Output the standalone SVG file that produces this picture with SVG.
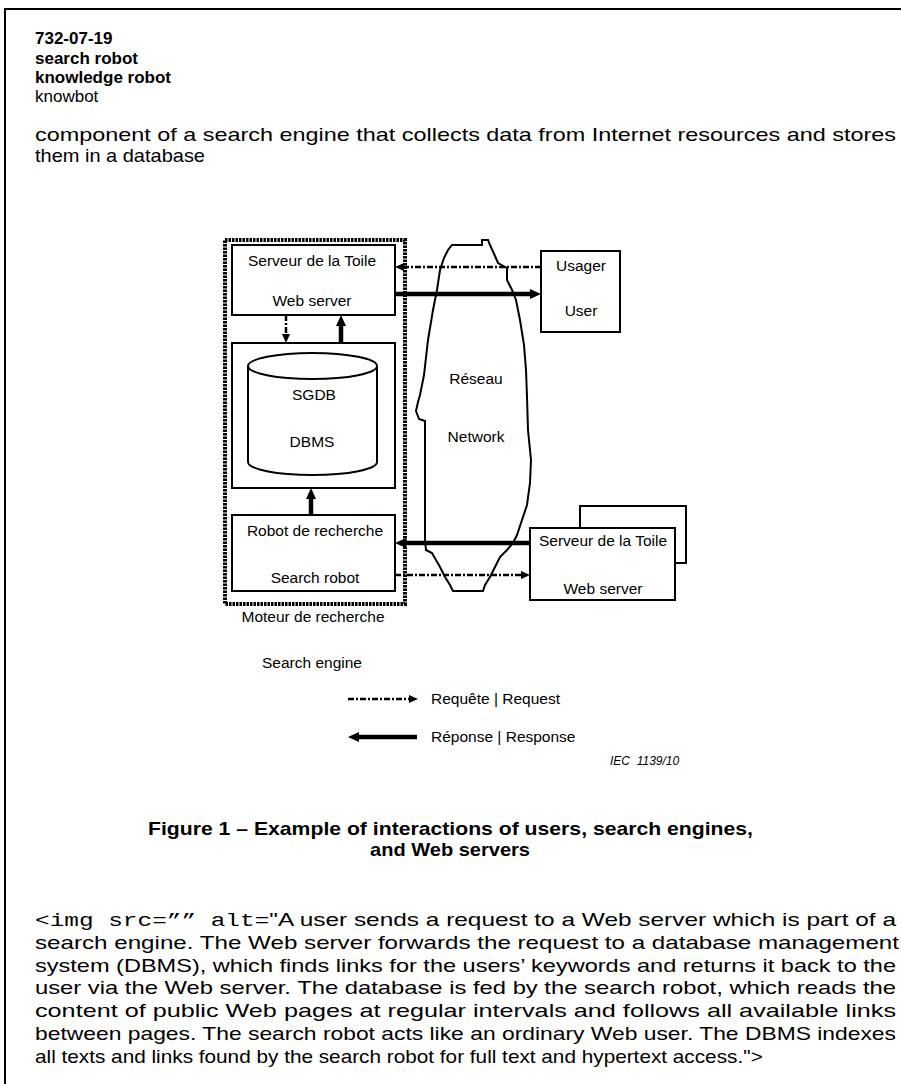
<svg xmlns="http://www.w3.org/2000/svg" width="901" height="1084" viewBox="0 0 901 1084">
<style>
.t{font-family:"Liberation Sans",Arial,sans-serif;fill:#000}
.b{font-weight:bold}
.hd{font-size:17px}
.body{font-size:19px}
.d{font-size:15.5px}
.m{font-family:"Liberation Mono","Courier New",monospace}
.box{fill:#fff;stroke:#000;stroke-width:2}
.thick{stroke:#000;stroke-width:4.5;fill:none}
.dd{stroke:#000;stroke-width:2.5;fill:none;stroke-dasharray:6 2 2 2}
</style>
<defs>
<marker id="ah" markerUnits="userSpaceOnUse" markerWidth="12" markerHeight="12" refX="0" refY="5.5" orient="auto"><path d="M0,0.5 L11,5.5 L0,10.5 Z" fill="#000"/></marker>
<marker id="ahs" markerUnits="userSpaceOnUse" markerWidth="10" markerHeight="10" refX="0" refY="4.5" orient="auto"><path d="M0,0.5 L9,4.5 L0,8.5 Z" fill="#000"/></marker>
</defs>
<rect width="901" height="1084" fill="#fff"/>
<g id="frame"><path d="M5,1084 V9 H901" fill="none" stroke="#000" stroke-width="2"/></g>
<g id="header" class="t hd">
<text x="35" y="44" class="b">732-07-19</text>
<text x="35" y="64" class="b">search robot</text>
<text x="35" y="83" class="b">knowledge robot</text>
<text x="35" y="102">knowbot</text>
</g>
<g id="definition" class="t body">
<text x="35" y="141" textLength="861" lengthAdjust="spacingAndGlyphs">component of a search engine that collects data from Internet resources and stores</text>
<text x="35" y="162" textLength="170" lengthAdjust="spacingAndGlyphs">them in a database</text>
</g>
<g id="network"><path d="M452,245 L482,245 L482,240 L488,240 L490,245 L495,256 L498,263 L507,268 L507,280 L512,290 L516,300 L520,320 L524,345 L526,370 L527,397 L528,430 L531,460 L530,483 L527,505 L522,520 L517,535 L513,543 L507,550 L500,557 L495,567 L490,577 L485,585 L483,591 L453,591 L450,585 L445,577 L440,567 L436,560 L432,553 L426,550 L425,540 L425,421 L419,419 L416,411 L418,402 L420,395 L424,375 L428,340 L433,310 L437,290 L440,270 L444,258 L448,250 Z" fill="none" stroke="#000" stroke-width="2"/>
<text x="476" y="384" class="t d" text-anchor="middle">Réseau</text>
<text x="476" y="442" class="t d" text-anchor="middle">Network</text>
</g>
<g id="search-engine"><rect x="225" y="240" width="180" height="364" fill="none" stroke="#000" stroke-width="4" stroke-dasharray="2.5 1"/>
<text x="313" y="622" class="t d" text-anchor="middle">Moteur de recherche</text>
<text x="312" y="668" class="t d" text-anchor="middle">Search engine</text>
</g>
<g id="web-server"><rect x="232" y="245" width="163" height="70" class="box"/>
<text x="312" y="266" class="t d" text-anchor="middle">Serveur de la Toile</text>
<text x="312" y="306" class="t d" text-anchor="middle">Web server</text>
</g>
<g id="dbms"><rect x="232" y="343" width="163" height="145" class="box"/>
<path d="M248,366 V462 A64.5,13 0 0 0 377,462 V366" fill="#fff" stroke="#000" stroke-width="2"/>
<ellipse cx="312.5" cy="366" rx="64.5" ry="13" fill="#fff" stroke="#000" stroke-width="2"/>
<text x="314" y="400" class="t d" text-anchor="middle">SGDB</text>
<text x="312" y="447" class="t d" text-anchor="middle">DBMS</text>
</g>
<g id="search-robot"><rect x="232" y="515" width="163" height="76" class="box"/>
<text x="315" y="536" class="t d" text-anchor="middle">Robot de recherche</text>
<text x="315" y="583" class="t d" text-anchor="middle">Search robot</text>
</g>
<g id="user"><rect x="541" y="251" width="79" height="81" class="box"/>
<text x="581" y="271" class="t d" text-anchor="middle">Usager</text>
<text x="581" y="316" class="t d" text-anchor="middle">User</text>
</g>
<g id="remote-web-server"><rect x="580" y="506" width="106" height="57" class="box"/>
<rect x="530" y="528" width="145" height="72" class="box"/>
<text x="603" y="546" class="t d" text-anchor="middle">Serveur de la Toile</text>
<text x="603" y="594" class="t d" text-anchor="middle">Web server</text>
</g>
<g id="connectors">
<line x1="541" y1="267" x2="404" y2="267" class="dd" marker-end="url(#ahs)"/>
<line x1="395" y1="294" x2="530" y2="294" class="thick" marker-end="url(#ah)"/>
<line x1="286" y1="315" x2="286" y2="334" class="dd" marker-end="url(#ahs)"/>
<line x1="341" y1="343" x2="341" y2="326" class="thick" marker-end="url(#ah)"/>
<line x1="311" y1="515" x2="311" y2="499" class="thick" marker-end="url(#ah)"/>
<line x1="530" y1="543" x2="406" y2="543" class="thick" marker-end="url(#ah)"/>
<line x1="395" y1="575" x2="521" y2="575" class="dd" marker-end="url(#ahs)"/>
</g>
<g id="legend">
<line x1="348" y1="699" x2="409" y2="699" class="dd" stroke-width="2" marker-end="url(#ahs)"/>
<text x="431" y="704" class="t d">Requête | Request</text>
<line x1="417" y1="737" x2="359" y2="737" class="thick" marker-end="url(#ah)"/>
<text x="431" y="742" class="t d">Réponse | Response</text>
<text x="610" y="765" class="t" font-size="12" font-style="italic" xml:space="preserve">IEC  1139/10</text>
</g>
<g id="caption" class="t body b">
<text x="148" y="835" textLength="605" lengthAdjust="spacingAndGlyphs">Figure 1 – Example of interactions of users, search engines,</text>
<text x="370" y="856" textLength="160" lengthAdjust="spacingAndGlyphs">and Web servers</text>
</g>
<g id="description" class="t body">
<text x="35" y="926" textLength="861" lengthAdjust="spacingAndGlyphs"><tspan class="m" xml:space="preserve">&lt;img src=”” alt=</tspan>"A user sends a request to a Web server which is part of a</text>
<text x="35" y="949" textLength="864" lengthAdjust="spacingAndGlyphs">search engine. The Web server forwards the request to a database management</text>
<text x="35" y="972" textLength="861" lengthAdjust="spacingAndGlyphs">system (DBMS), which finds links for the users’ keywords and returns it back to the</text>
<text x="35" y="994" textLength="861" lengthAdjust="spacingAndGlyphs">user via the Web server. The database is fed by the search robot, which reads the</text>
<text x="35" y="1017" textLength="861" lengthAdjust="spacingAndGlyphs">content of public Web pages at regular intervals and follows all available links</text>
<text x="35" y="1040" textLength="861" lengthAdjust="spacingAndGlyphs">between pages. The search robot acts like an ordinary Web user. The DBMS indexes</text>
<text x="35" y="1063" textLength="728" lengthAdjust="spacingAndGlyphs">all texts and links found by the search robot for full text and hypertext access."<tspan class="m">&gt;</tspan></text>
</g>
</svg>
